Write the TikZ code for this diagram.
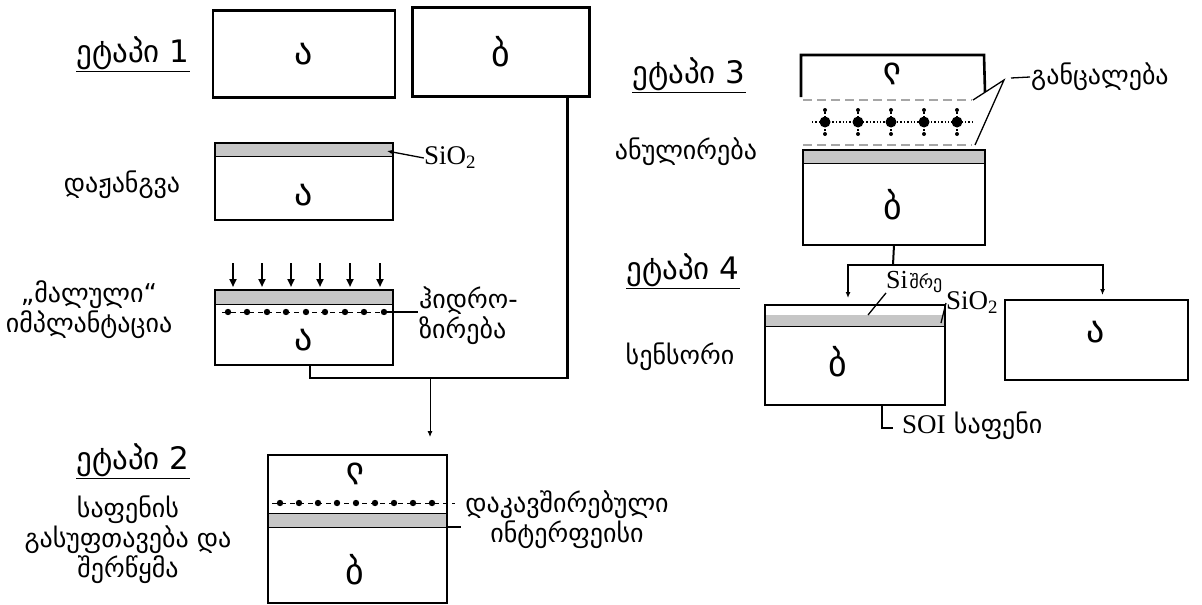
\documentclass[tikz,border=0pt]{standalone}
\usepackage{fontspec}
\setmainfont{DejaVu Sans}
\newfontfamily\sifont{Liberation Serif}
\usetikzlibrary{arrows.meta,calc,positioning}

\tikzset{
  wafer/.style={draw, line width=2.6pt, inner sep=0pt, outer sep=0pt},
  geo/.style={font=\fontsize{26}{30}\selectfont, align=center, inner sep=1pt},
  title/.style={font=\fontsize{31}{34}\selectfont, inner sep=1pt},
  letter/.style={font=\fontsize{36}{38}\selectfont, inner sep=0pt},
  chem/.style={font=\sifont\fontsize{27}{30}\selectfont, inner sep=0pt},
  link/.style={line width=2.2pt},
  lead/.style={line width=1.3pt},
  cleave/.style={draw=gray!70, line width=2pt, dash pattern=on 9pt off 5pt},
}
% stage title, underlined
\newcommand{\stage}[3]{\node[title] (#1) at (#2) {\underline{ეტაპი #3}};}
% oxide strip under the top edge of a wafer
\newcommand{\oxide}[3]{
  \fill[gray!45] ([xshift=1.3pt,yshift=-#2]#1.north west) rectangle ([xshift=-1.3pt,yshift=-#3]#1.north east);
  \draw[line width=1pt] ([yshift=-#3]#1.north west) -- ([yshift=-#3]#1.north east);
}
% implanted hydrogen: dashed line with dots
\newcommand{\hrow}[4]{
  \draw[line width=1pt, dash pattern=on 5pt off 4pt] (#2,#1) -- (#3,#1);
  \foreach \x in {#4} \fill (\x,#1) circle (3.2pt);
}

\begin{document}
\begin{tikzpicture}[x=1pt, y=-1pt]
  \useasboundingbox (0,0) rectangle (1202,605);

  % stage 1
  \stage{st1}{133,54}{1}
  \node[wafer, minimum width=182pt, minimum height=87pt] (a1) at (304,54) {};
  \node[letter] (a1l) at (a1) {ა};
  \node[wafer, minimum width=177pt, minimum height=89pt] (b1) at (501,52) {};
  \node[letter] (b1l) at (b1) {ბ};

  % oxidation
  \node[geo] (ox) at (122,185) {დაჟანგვა};
  \node[wafer, minimum width=178pt, minimum height=77pt] (a2) at (304,181.5) {};
  \oxide{a2}{1.3pt}{13pt}
  \node[letter] (a2l) at (304,195) {ა};
  \node[chem] (sio1) at (450,158) {SiO\textsubscript{2}};
  \draw[lead, {Latex[length=5pt,width=4pt]}-] ([xshift=-6pt,yshift=-8pt]a2.north east) -- (sio1.west);

  % implantation
  \node[geo] (imp) at (89,310) {„მალული“\\იმპლანტაცია};
  \foreach \x in {233,262,291,320,350,380}
    \draw[line width=2pt, -{Triangle[length=8pt,width=7pt]}] (\x,263) -- (\x,287);
  \node[wafer, minimum width=178pt, minimum height=75pt] (a3) at (304,327.5) {};
  \oxide{a3}{1.3pt}{14pt}
  \hrow{312}{222}{388}{228,247,267,286,306,325,345,364,384}
  \node[letter] (a3l) at (304,340) {ა};
  \node[geo, align=left, anchor=west] (hyd) at (418,316) {ჰიდრო-\\ზირება};
  \draw[lead] (384,312) -- (hyd.west |- 0,312);

  % both wafers go to bonding
  \coordinate (merge) at (430,378);
  \draw[link] ([xshift=6pt]a3.south) |- (merge) -| ([xshift=-22pt]b1.south east);

  % stage 2
  \stage{st2}{133,461}{2}
  \node[geo] (clean) at (128,540) {საფენის\\გასუფთავება და\\შერწყმა};
  \node[wafer, minimum width=179pt, minimum height=148pt] (s2) at (357.5,529) {};
  \draw[line width=0.9pt, -{Latex[length=6pt,width=5pt]}, shorten >=18pt] (merge) -- (merge |- s2.north);
  \node[letter, rotate=180] (s2t) at (355,474) {ა};
  \hrow{503}{272}{455}{280,299,318,337,356,375,394,413,432}
  \oxide{s2}{58pt}{72pt}
  \draw[line width=1pt] ([yshift=-58pt]s2.north west) -- ([yshift=-58pt]s2.north east);
  \draw[lead] ([yshift=-72pt]s2.north east) -- ++(14,0);
  \node[letter] (s2b) at (355,570) {ბ};
  \node[geo] (bond) at (567,520) {დაკავშირებული\\ინტერფეისი};

  % stage 3
  \stage{st3}{689,75}{3}
  \node[geo] (ann) at (686,152) {ანულირება};
  \draw[line width=2.6pt] (801,97) -- (801,55) -- (984,55) -- (985,92);
  \node[letter, rotate=180] (c3t) at (892,74) {ა};
  \draw[cleave] (803,100) -- (972,100);
  \draw[line width=1.4pt, dotted] (812,122) -- (972,122);
  \foreach \x in {825,858,891,924,957} {
    \draw[line width=1.4pt, dotted] (\x,109) -- (\x,135);
    \fill (\x,122) circle (5.5pt);
    \fill (\x,110) circle (2pt);
    \fill (\x,134) circle (2pt);
  }
  \draw[cleave] (803,145) -- (972,145);
  \node[wafer, minimum width=182pt, minimum height=95pt] (b3) at (894,197.5) {};
  \oxide{b3}{1.3pt}{13pt}
  \node[letter] (b3l) at (893,205) {ბ};
  \coordinate (split) at (1004,80);
  \draw[lead] (973,100) -- (split) -- (975,145);
  \node[geo, anchor=west] (sep) at (1030,77) {განცალება};
  \draw[lead] (1011,78) -- (sep.west);

  % stage 4
  \stage{st4}{683,271}{4}
  \node[geo] (sens) at (680,357) {სენსორი};
  \node[wafer, minimum width=180pt, minimum height=100pt] (b4) at (855,355) {};
  \draw[line width=1pt] ([yshift=-10pt]b4.north west) -- ([yshift=-10pt]b4.north east);
  \oxide{b4}{10pt}{21pt}
  \node[letter] (b4l) at (838,362) {ბ};
  \node[wafer, minimum width=183pt, minimum height=80pt] (a4) at (1096.5,340) {};
  \node[letter] (a4l) at (1096,332) {ა};
  \coordinate (fork) at (893,265);
  \draw[line width=2pt] (b3.south) -- (fork);
  \draw[line width=2pt, -{Latex[length=6pt,width=5pt]}, shorten >=7pt] (fork) -| ([xshift=-7pt]b4.north);
  \draw[line width=2pt, -{Latex[length=6pt,width=5pt]}, shorten >=5pt] (fork) -| ([xshift=6pt]a4.north);

  % layer labels
  \node[anchor=west, inner sep=0pt] (si) at (886,282) {{\sifont\fontsize{26}{28}\selectfont Si}\,{\fontsize{18}{18}\selectfont შრე}};
  \draw[lead] ([xshift=13pt,yshift=-10pt]b4.north) -- (si.south west);
  \node[chem, anchor=west] (sio2) at (946,303) {SiO\textsubscript{2}};
  \draw[lead] ([xshift=-4pt,yshift=-18pt]b4.north east) -- (sio2.west);
  \draw[line width=2pt] (882,405) |- (893,428);
  \node[anchor=west, inner sep=0pt, font=\fontsize{26}{30}\selectfont] (soi) at (902,426) {{\sifont\fontsize{27}{30}\selectfont SOI} საფენი};
\end{tikzpicture}
\end{document}
